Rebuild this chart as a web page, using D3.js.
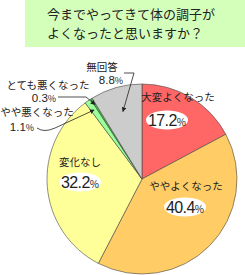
<!DOCTYPE html>
<html><head><meta charset="utf-8">
<script src="https://cdn.jsdelivr.net/npm/d3@7"></script>
<style>body{margin:0;background:#fff}svg{display:block}text{font-family:"Noto Sans CJK JP",sans-serif}</style>
</head><body>
<script>
const categories = ["大変よくなった","ややよくなった","変化なし","やや悪くなった","とても悪くなった","無回答"];
const values = [17.2, 40.4, 32.2, 1.1, 0.3, 8.8];
const colors = ["#ff6666","#ffcc66","#ffff99","#99ff99","#33cc33","#cccccc"];
const titleLines = ["今までやってきて体の調子が","よくなったと思いますか？"];

const W=245,H=275, cx=142, cy=179, R=95;
const svg=d3.select("body").append("svg").attr("width",W).attr("height",H);
svg.append("rect").attr("x",25).attr("y",0).attr("width",220).attr("height",47).attr("fill","#d4ffbb");
svg.selectAll("text.title").data(titleLines).join("text").attr("class","title")
  .attr("x",47).attr("y",(d,i)=>19+i*18.5).attr("font-size",13).attr("fill","#222").text(d=>d);

const pie=d3.pie().sort(null).value(d=>d)(values);
const arc=d3.arc().innerRadius(0).outerRadius(R);
const g=svg.append("g").attr("transform",`translate(${cx},${cy})`);
g.selectAll("path").data(pie).join("path").attr("d",arc)
  .attr("fill",(d,i)=>colors[i]).attr("stroke","#444").attr("stroke-width",0.6);

function pt(d,r){const a=(d.startAngle+d.endAngle)/2;return [cx+r*Math.sin(a),cy-r*Math.cos(a)];}

const inside=[{i:0,lx:178,ly:101,px:167,py:120},{i:1,lx:186,ly:190,px:185,py:207},{i:2,lx:80,ly:166,px:80,py:182}];
inside.forEach(o=>{
  svg.append("text").attr("x",o.lx).attr("y",o.ly).attr("text-anchor","middle").attr("font-size",10.5).attr("fill","#222").text(categories[o.i]);
  svg.append("ellipse").attr("cx",o.px).attr("cy",o.py).attr("rx",21).attr("ry",9.5).attr("fill","#fff");
  const t=svg.append("text").attr("x",o.px).attr("y",o.py+5.5).attr("text-anchor","middle").attr("fill","#222");
  t.append("tspan").attr("font-size",16).attr("font-family","Liberation Sans, Arial, sans-serif").attr("letter-spacing",-0.6).text(values[o.i]);
  t.append("tspan").attr("font-size",10).text("%");
});

svg.append("defs").append("marker").attr("id","ar").attr("viewBox","0 0 10 10").attr("refX",9).attr("refY",5)
  .attr("markerWidth",6).attr("markerHeight",6).attr("orient","auto-start-reverse")
  .append("path").attr("d","M0,0L10,5L0,10z").attr("fill","#222");
const outside=[
  {i:5,lx:102,ly:71,px:111,py:84, path:(tp)=>`M124,73L134,73L${tp[0]},${tp[1]}`, r:70},
  {i:4,lx:48,ly:89,px:44,py:102, path:(tp)=>`M58,97L86,97L${tp[0]},${tp[1]}`, r:88},
  {i:3,lx:37,ly:116,px:22,py:131, path:(tp)=>`M37,128Q44,133 55,128L${tp[0]},${tp[1]}`, r:84}
];
outside.forEach(o=>{
  svg.append("text").attr("x",o.lx).attr("y",o.ly).attr("text-anchor","middle").attr("font-size",10.5).attr("fill","#222").text(categories[o.i]);
  const t=svg.append("text").attr("x",o.px).attr("y",o.py).attr("text-anchor","middle").attr("fill","#222");
  t.append("tspan").attr("font-size",11.5).attr("font-family","Liberation Sans, Arial, sans-serif").text(values[o.i]);
  t.append("tspan").attr("font-size",9).text("%");
  const tp=pt(pie[o.i],o.r);
  svg.append("path").attr("d",o.path(tp)).attr("fill","none").attr("stroke","#222").attr("stroke-width",0.8).attr("marker-end","url(#ar)");
});
</script>
</body></html>
